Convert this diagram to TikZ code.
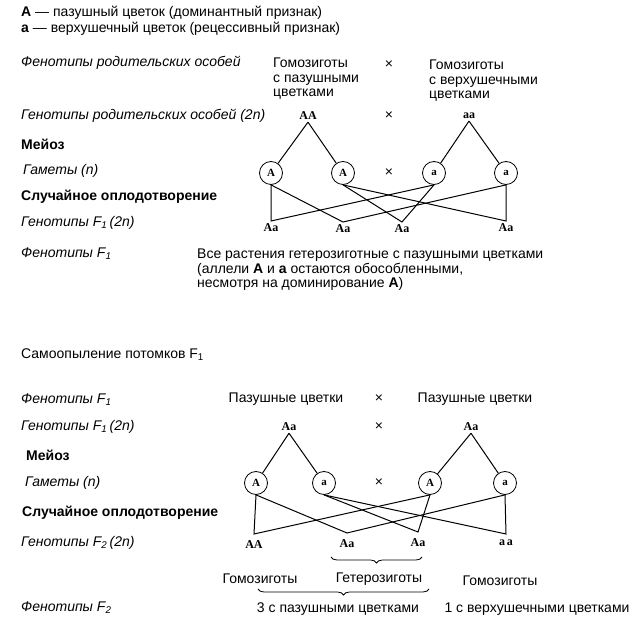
\documentclass[tikz,border=0pt]{standalone}
\usepackage{fontspec}
\setmainfont{Liberation Sans}
\newfontfamily\genfont{Liberation Serif}
\usetikzlibrary{positioning,decorations.pathreplacing}

\begin{document}
\begin{tikzpicture}[
    x=1pt, y=-1pt,
    font=\fontsize{14}{14.5}\selectfont,
    txt/.style={inner sep=0pt, align=left},
    lab/.style={anchor=west, inner sep=0pt, font=\fontsize{14}{14.5}\selectfont\itshape},
    blab/.style={anchor=west, inner sep=0pt, font=\fontsize{14}{14.5}\selectfont\bfseries},
    geno/.style={inner sep=2pt, font=\genfont\bfseries\fontsize{12}{12}\selectfont},
    gam/.style={draw, circle, minimum size=23pt, inner sep=0pt, line width=0.8pt,
                font=\genfont\bfseries\fontsize{11}{11}\selectfont},
    cross/.style={inner sep=0pt},
    ln/.style={line width=1pt},
    brc/.style={decorate, decoration={brace, amplitude=6pt, mirror}, line width=0.8pt},
]
\useasboundingbox (0,0) rectangle (641,631);

% ===== Legend =====
\node[txt, anchor=west] (legA) at (21,13) {\textbf{A} — пазушный цветок (доминантный признак)};
\node[txt, anchor=west] (lega) at (21,29) {\textbf{a} — верхушечный цветок (рецессивный признак)};

% ===== Parents =====
\node[lab] (phP) at (21,63) {Фенотипы родительских особей};
\node[txt, anchor=west] (homA) at (273,79) {Гомозиготы\\с пазушными\\цветками};
\node[cross] (x1) at (389,65) {×};
\node[txt, anchor=west] (homa) at (429,81) {Гомозиготы\\с верхушечными\\цветками};

\node[lab] (genP) at (21,116) {Генотипы родительских особей (2n)};
\node[geno] (pAA) at (308,116) {AA};
\node[cross] (x2) at (389,116) {×};
\node[geno] (paa) at (469,116) {aa};

\node[blab] (mei1) at (21,144) {Мейоз};
\node[lab] (gam1) at (23,171) {Гаметы (n)};
\node[gam] (g1) at (271,173) {A};
\node[gam] (g2) at (343,173) {A};
\node[cross] (x3) at (389,173) {×};
\node[gam] (g3) at (434,173) {a};
\node[gam] (g4) at (506,173) {a};

\node[blab] (fert1) at (21,197) {Случайное оплодотворение};
\node[lab] (genF1) at (21,223) {Генотипы F\textsubscript{1}\,(2n)};
\node[geno, anchor=north] (f1a) at (271,221) {Aa};
\node[geno, anchor=north] (f1b) at (343,222) {Aa};
\node[geno, anchor=north] (f1c) at (402,222) {Aa};
\node[geno, anchor=north] (f1d) at (506,221) {Aa};

\node[lab] (phF1) at (21,254) {Фенотипы F\textsubscript{1}};
\node[txt, anchor=west] (allF1) at (197,270) {Все растения гетерозиготные с пазушными цветками\\
    (аллели \textbf{A} и \textbf{a} остаются обособленными,\\
    несмотря на доминирование \textbf{A})};

% ===== Meiosis & fertilisation (P) =====
\draw[ln] (pAA.south) -- (g1);
\draw[ln] (pAA.south) -- (g2);
\draw[ln] (paa.south) -- (g3);
\draw[ln] (paa.south) -- (g4);
\draw[ln] (g1.south) -- (f1a.north) -- (g3.south);
\draw[ln] (g1.south) -- (f1b.north) -- (g4.south);
\draw[ln] (g2.south) -- (f1c.north) -- (g3.south);
\draw[ln] (g2.south) -- (f1d.north) -- (g4.south);

% ===== Selfing F1 =====
\node[txt, anchor=west] (self) at (21,355) {Самоопыление потомков F\textsubscript{1}};

\node[lab] (phF1b) at (21,400) {Фенотипы F\textsubscript{1}};
\node[txt] (axl1) at (286,399) {Пазушные цветки};
\node[cross] (x4) at (379,399) {×};
\node[txt] (axl2) at (475,399) {Пазушные цветки};

\node[lab] (genF1b) at (21,427) {Генотипы F\textsubscript{1}\,(2n)};
\node[geno] (pAa1) at (289,427) {Aa};
\node[cross] (x5) at (379,427) {×};
\node[geno] (pAa2) at (471,427) {Aa};

\node[blab] (mei2) at (26,455) {Мейоз};
\node[lab] (gam2) at (25,483) {Гаметы (n)};
\node[gam] (h1) at (256,483) {A};
\node[gam] (h2) at (324,483) {a};
\node[cross] (x6) at (379,483) {×};
\node[gam] (h3) at (430,483) {A};
\node[gam] (h4) at (505,483) {a};

\node[blab] (fert2) at (22,513) {Случайное оплодотворение};
\node[lab] (genF2) at (21,543) {Генотипы F\textsubscript{2}\,(2n)};
\node[geno, anchor=north, inner ysep=6pt] (f2a) at (254,534) {AA};
\node[geno, anchor=north, inner ysep=6pt] (f2b) at (347,533) {Aa};
\node[geno, anchor=north, inner ysep=6pt] (f2c) at (418,532) {Aa};
\node[geno, anchor=north, inner ysep=6pt] (f2d) at (506,534) {a\,a};

% ===== Meiosis & fertilisation (F1) =====
\draw[ln] (pAa1.south) -- (h1);
\draw[ln] (pAa1.south) -- (h2);
\draw[ln] (pAa2.south) -- (h3);
\draw[ln] (pAa2.south) -- (h4);
\draw[ln] (h1.south) -- (f2a.north) -- (h3.south);
\draw[ln] (h1.south) -- (f2b.north) -- (h4.south);
\draw[ln] (h2.south) -- (f2c.north) -- (h3.south);
\draw[ln] (h2.south) -- (f2d.north) -- (h4.south);

% ===== F2 groups =====
\draw[brc] (331,557) -- (422,557);
\node[txt] (hom1) at (260,579) {Гомозиготы};
\node[txt] (het) at (379,579) {Гетерозиготы};
\node[txt] (hom2) at (500,581) {Гомозиготы};
\draw[brc] (258,589) -- (429,589);

\node[lab] (phF2) at (21,608) {Фенотипы F\textsubscript{2}};
\node[txt] (dom) at (338,609) {3 с пазушными цветками};
\node[txt] (rec) at (537,609) {1 с верхушечными цветками};

\end{tikzpicture}
\end{document}
